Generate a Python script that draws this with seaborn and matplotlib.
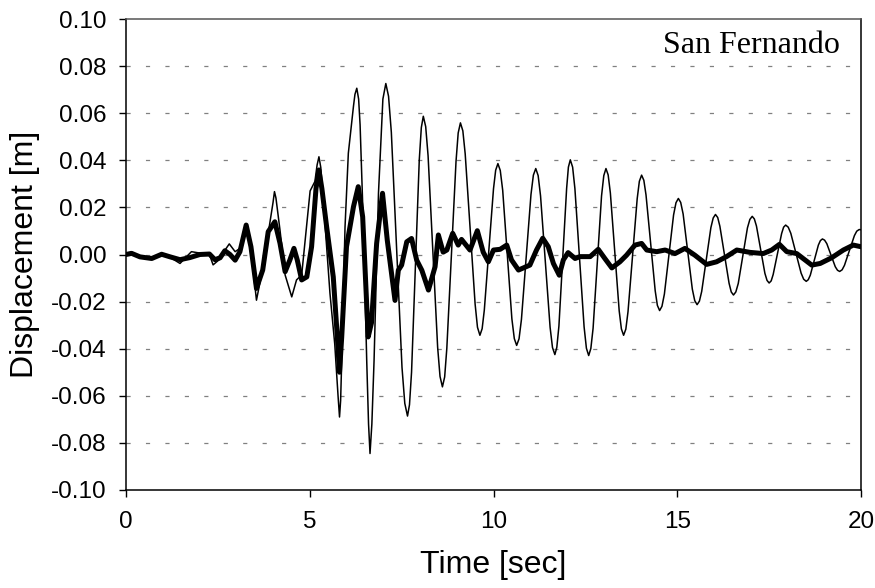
import matplotlib
matplotlib.use("Agg")
import matplotlib.pyplot as plt
import pandas as pd
import seaborn as sns

# ---- data ----
thin_t = [0.00, 0.15, 0.38, 0.70, 0.97, 1.20, 1.47, 1.78, 2.05, 2.27, 2.37, 2.55, 2.70, 2.81, 2.97,
          3.10, 3.27, 3.40, 3.55, 3.72, 3.87, 4.00, 4.04, 4.08, 4.19, 4.33, 4.51, 4.64, 4.78, 4.90,
          5.01, 5.14, 5.20, 5.25, 5.30, 5.41, 5.55, 5.68, 5.77, 5.81, 5.84, 5.87, 5.96, 6.05, 6.19,
          6.23, 6.28, 6.33, 6.37, 6.46, 6.55, 6.60, 6.64, 6.69, 6.75, 6.87, 6.99,
          7.07, 7.144, 7.22, 7.365, 7.51, 7.586, 7.66, 7.714, 7.77, 7.875, 7.98, 8.036,
          8.09, 8.155, 8.22, 8.35, 8.48, 8.545, 8.61, 8.671, 8.73, 8.855, 8.98, 9.039,
          9.10, 9.166, 9.23, 9.365, 9.50, 9.564, 9.63, 9.691, 9.75, 9.875, 10.00, 10.059,
          10.12, 10.184, 10.25, 10.375, 10.50, 10.566, 10.63, 10.695, 10.76, 10.89, 11.02, 11.085,
          11.15, 11.215, 11.28, 11.41, 11.54, 11.605, 11.67, 11.723, 11.78, 11.885, 11.99, 12.038,
          12.09, 12.153, 12.215, 12.34, 12.465, 12.528, 12.59, 12.649, 12.71, 12.825, 12.94, 13.001,
          13.06, 13.12, 13.18, 13.30, 13.42, 13.48, 13.54, 13.601, 13.66, 13.785, 13.91, 13.969,
          14.03, 14.091, 14.15, 14.275, 14.40, 14.459, 14.52, 14.584, 14.65, 14.775, 14.90, 14.966,
          15.03, 15.094, 15.16, 15.285, 15.41, 15.476, 15.54, 15.603, 15.665, 15.79, 15.915, 15.978,
          16.04, 16.101, 16.16, 16.285, 16.41, 16.469, 16.53, 16.594, 16.66, 16.785, 16.91, 16.976,
          17.04, 17.098, 17.155, 17.27, 17.385, 17.443, 17.50, 17.556, 17.61, 17.725, 17.84, 17.894,
          17.95, 18.02, 18.09, 18.23, 18.37, 18.44, 18.51, 18.565, 18.62, 18.73, 18.84, 18.895,
          18.95, 19.009, 19.07, 19.185, 19.30, 19.361, 19.42, 19.486, 19.55, 19.685, 19.82, 19.884,
          19.95, 20.00]
thin_v = [0.0000, 0.0005, -0.0010, -0.0017, 0.0001, -0.0012, -0.0038, 0.0012, 0.0005, 0.0000,
          -0.0044, -0.0020, 0.0020, 0.0045, 0.0012, 0.0026, 0.0125, 0.0020, -0.0194, -0.0060,
          0.0090, 0.0220, 0.0267, 0.0240, 0.0104, -0.0087, -0.0180, -0.0108, -0.0087, 0.0100,
          0.0270, 0.0310, 0.0380, 0.0415, 0.0370, 0.0140, -0.0165, -0.0380, -0.0600, -0.0690,
          -0.0620, -0.0450, 0.0117, 0.0430, 0.0630, 0.0680, 0.0706, 0.0660, 0.0550, 0.0120,
          -0.0450, -0.0720, -0.0845, -0.0720, -0.0450, 0.0260, 0.0660,
          0.0726, 0.0672, 0.0519, 0.0020, -0.0479, -0.0632, -0.0686, -0.0638, -0.0500, -0.0050, 0.0401, 0.0539,
          0.0587, 0.0543, 0.0419, 0.0013, -0.0394, -0.0518, -0.0562, -0.0520, -0.0398, -0.0002, 0.0395, 0.0516,
          0.0559, 0.0525, 0.0427, 0.0108, -0.0211, -0.0309, -0.0343, -0.0315, -0.0236, 0.0022, 0.0279, 0.0358,
          0.0386, 0.0357, 0.0273, 0.0000, -0.0273, -0.0357, -0.0386, -0.0358, -0.0276, -0.0011, 0.0255, 0.0337,
          0.0365, 0.0335, 0.0249, -0.0030, -0.0309, -0.0395, -0.0425, -0.0394, -0.0304, -0.0012, 0.0281, 0.0371,
          0.0402, 0.0371, 0.0280, -0.0014, -0.0307, -0.0398, -0.0429, -0.0399, -0.0313, -0.0032, 0.0249, 0.0335,
          0.0365, 0.0338, 0.0261, 0.0011, -0.0239, -0.0316, -0.0343, -0.0317, -0.0243, -0.0003, 0.0237, 0.0311,
          0.0337, 0.0315, 0.0253, 0.0050, -0.0154, -0.0216, -0.0238, -0.0220, -0.0168, 0.0000, 0.0168, 0.0220,
          0.0238, 0.0221, 0.0172, 0.0013, -0.0147, -0.0196, -0.0213, -0.0198, -0.0157, -0.0022, 0.0114, 0.0155,
          0.0170, 0.0157, 0.0120, -0.0001, -0.0122, -0.0159, -0.0172, -0.0159, -0.0123, -0.0005, 0.0113, 0.0149,
          0.0162, 0.0151, 0.0121, 0.0021, -0.0080, -0.0110, -0.0121, -0.0112, -0.0085, 0.0002, 0.0089, 0.0116,
          0.0125, 0.0116, 0.0090, 0.0006, -0.0079, -0.0105, -0.0114, -0.0107, -0.0088, -0.0024, 0.0040, 0.0059,
          0.0066, 0.0061, 0.0046, -0.0003, -0.0052, -0.0067, -0.0072, -0.0065, -0.0046, 0.0017, 0.0080, 0.0099,
          0.0106, 0.0105]

thick_t = [0.00, 0.15, 0.38, 0.70, 0.97, 1.20, 1.47, 1.74, 2.01, 2.27, 2.42, 2.56, 2.69, 2.83, 2.97,
           3.10, 3.27, 3.40, 3.55, 3.72, 3.87, 4.05, 4.19, 4.33, 4.46, 4.57, 4.66, 4.78, 4.92, 5.05,
           5.17, 5.25, 5.33, 5.46, 5.64, 5.75, 5.81, 5.87, 6.00, 6.19, 6.32, 6.44, 6.59, 6.68, 6.82,
           6.98, 7.11, 7.32, 7.41, 7.50, 7.64, 7.77, 7.91, 8.05, 8.23, 8.41, 8.50, 8.63, 8.73, 8.89,
           9.04, 9.13, 9.36, 9.56, 9.72, 9.86, 10.00, 10.18, 10.36, 10.49, 10.68, 10.99, 11.17, 11.34,
           11.49, 11.63, 11.79, 11.90, 12.03, 12.22, 12.35, 12.63, 12.85, 13.03, 13.22, 13.44, 13.62,
           13.85, 14.03, 14.17, 14.44, 14.67, 14.94, 15.21, 15.48, 15.80, 16.07, 16.34, 16.62, 16.98,
           17.34, 17.57, 17.78, 17.98, 18.25, 18.66, 18.89, 19.20, 19.52, 19.79, 20.00]
thick_v = [0.0000, 0.0005, -0.0010, -0.0017, 0.0001, -0.0010, -0.0022, -0.0013, 0.0000, 0.0002,
           -0.0022, -0.0014, 0.0016, 0.0000, -0.0024, 0.0012, 0.0125, 0.0033, -0.0144, -0.0066,
           0.0097, 0.0139, 0.0048, -0.0073, -0.0023, 0.0026, -0.0023, -0.0108, -0.0095, 0.0033,
           0.0280, 0.0359, 0.0280, 0.0117, -0.0095, -0.0350, -0.0500, -0.0350, 0.0033, 0.0203,
           0.0288, 0.0160, -0.0350, -0.0290, 0.0047, 0.0260, 0.0060, -0.0195, -0.0067, -0.0045,
           0.0054, 0.0068, -0.0024, -0.0067, -0.0151, -0.0052, 0.0083, 0.0010, 0.0019, 0.0090,
           0.0040, 0.0064, 0.0019, 0.0101, 0.0010, -0.0031, 0.0019, 0.0022, 0.0040, -0.0023,
           -0.0066, -0.0045, 0.0019, 0.0069, 0.0033, -0.0038, -0.0088, -0.0023, 0.0008, -0.0017,
           -0.0009, -0.0009, 0.0022, -0.0017, -0.0057, -0.0031, -0.0003, 0.0040, 0.0047, 0.0019,
           0.0012, 0.0019, 0.0004, 0.0026, -0.0003, -0.0042, -0.0031, -0.0009, 0.0019, 0.0009,
           0.0004, 0.0019, 0.0043, 0.0012, 0.0004, -0.0045, -0.0038, -0.0014, 0.0019, 0.0040,
           0.0033]

x_ticks = [0, 5, 10, 15, 20]
y_ticks = [-0.10, -0.08, -0.06, -0.04, -0.02, 0.00, 0.02, 0.04, 0.06, 0.08, 0.10]
x_label = "Time [sec]"
y_label = "Displacement [m]"
annotation = "San Fernando"

# ---- drawing ----
sns.set_theme(style="ticks")
plt.rcParams['font.family'] = ['Liberation Sans', 'DejaVu Sans']
plt.rcParams['lines.scale_dashes'] = False

fig = plt.figure(figsize=(8.75, 5.88), dpi=100)
ax = fig.add_axes([126 / 875, 1 - 490 / 588, (861 - 126) / 875, (490 - 19) / 588])

df_thin = pd.DataFrame({"t": thin_t, "v": thin_v})
df_thick = pd.DataFrame({"t": thick_t, "v": thick_v})

sns.lineplot(data=df_thin, x="t", y="v", ax=ax, color="black", linewidth=1.1,
             sort=True, estimator=None, zorder=3, solid_joinstyle="round")
sns.lineplot(data=df_thick, x="t", y="v", ax=ax, color="black", linewidth=3.6,
             sort=True, estimator=None, zorder=4, solid_joinstyle="round",
             solid_capstyle="round")

ax.set_xlim(0, 20)
ax.set_ylim(-0.10, 0.10)
ax.set_xticks(x_ticks)
ax.set_xticklabels([str(x) for x in x_ticks])
ax.set_yticks(y_ticks)
ax.set_yticklabels([f"{y:.2f}" for y in y_ticks])

for y in y_ticks[1:-1]:
    ax.axhline(y, color="#808080", linewidth=0.9, linestyle=(0, (3, 11)), zorder=1)

for side in ["left", "bottom", "right"]:
    ax.spines[side].set_color("black")
    ax.spines[side].set_linewidth(1.1)
ax.spines["top"].set_color("#555555")
ax.spines["top"].set_linewidth(1.1)

ax.tick_params(axis="both", direction="out", length=5, width=1.0, color="black",
               labelsize=17.5, labelcolor="black")
ax.tick_params(axis="y", pad=9)
ax.tick_params(axis="x", pad=10)

ax.set_xlabel(x_label, fontsize=23, labelpad=12, color="black")
ax.set_ylabel(y_label, fontsize=23, labelpad=8, color="black")

ax.text(0.971, 0.928, annotation, transform=ax.transAxes, ha="right", va="baseline",
        family=["Liberation Serif", "DejaVu Serif"], fontsize=23, color="black")

fig.savefig("out.png", dpi=100, facecolor="white")
